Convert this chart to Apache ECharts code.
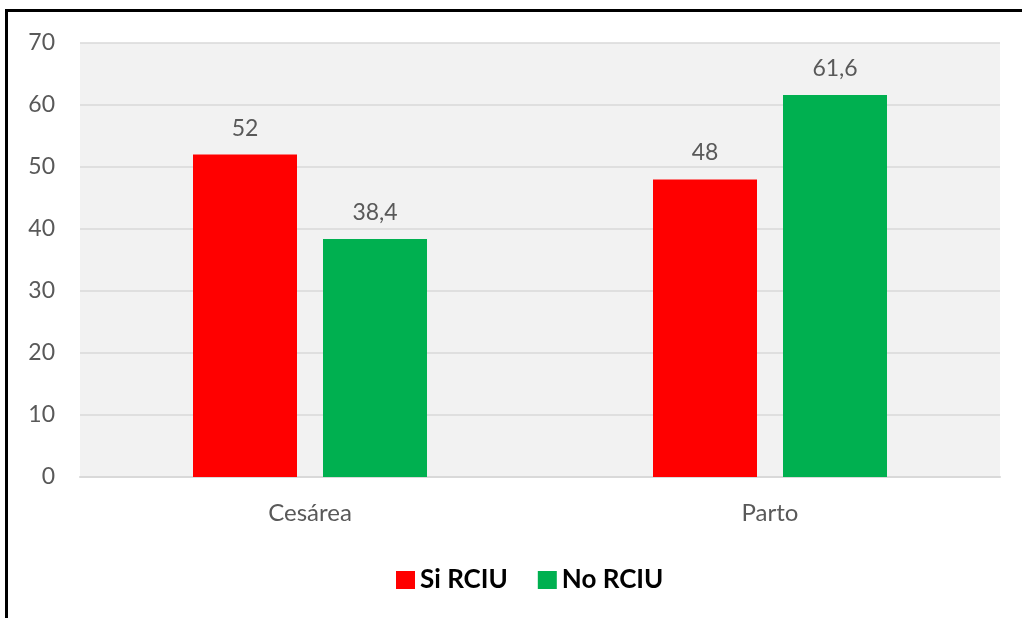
<!DOCTYPE html>
<html><head><meta charset="utf-8">
<script src="https://cdn.jsdelivr.net/npm/echarts@6/dist/echarts.min.js"></script>
<style>html,body{margin:0;padding:0;background:#fff}#c{width:1022px;height:618px}</style>
</head><body><div id="c"></div>
<script>
const categories = ['Cesárea', 'Parto'];
const seriesNames = ['Si RCIU', 'No RCIU'];
const siRciu = [52, 48];
const noRciu = [38.4, 61.6];
const yTicks = [0, 10, 20, 30, 40, 50, 60, 70];

const chart = echarts.init(document.getElementById('c'));
const fontFamily = 'Lato, "Liberation Sans", sans-serif';
const fmt = p => String(p.value).replace('.', ',');
chart.setOption({
  animation: false,
  textStyle: { fontFamily },
  graphic: [
    { type: 'line', shape: { x1: 6.5, y1: 9, x2: 6.5, y2: 618 }, style: { stroke: '#000', lineWidth: 3 } },
    { type: 'line', shape: { x1: 5, y1: 10.5, x2: 1022, y2: 10.5 }, style: { stroke: '#000', lineWidth: 3 } }
  ],
  grid: { left: 80, right: 22, top: 43, bottom: 141, show: true, backgroundColor: '#f2f2f2', borderWidth: 0 },
  legend: {
    data: seriesNames, top: 562, left: 391, itemWidth: 19, itemHeight: 18, itemGap: 30,
    icon: 'rect',
    textStyle: { fontFamily, fontSize: 26, fontWeight: 'bold', color: '#000' }
  },
  xAxis: {
    type: 'category', data: categories,
    axisLine: { lineStyle: { color: '#d9d9d9', width: 2 } },
    axisTick: { show: false },
    axisLabel: { color: '#595959', fontSize: 24, margin: 24 }
  },
  yAxis: {
    type: 'value', min: yTicks[0], max: yTicks[yTicks.length - 1], interval: 10,
    axisLine: { show: false }, axisTick: { show: false },
    axisLabel: { color: '#595959', fontSize: 23, margin: 25 },
    splitLine: { lineStyle: { color: '#d9d9d9', width: 1.5 } }
  },
  series: [
    { name: seriesNames[0], type: 'bar', data: siRciu, barWidth: 104, barGap: '25%',
      itemStyle: { color: '#ff0000' },
      label: { show: true, position: 'top', distance: 15, color: '#595959', fontSize: 23, formatter: fmt } },
    { name: seriesNames[1], type: 'bar', data: noRciu, barWidth: 104,
      itemStyle: { color: '#00b050' },
      label: { show: true, position: 'top', distance: 15, color: '#595959', fontSize: 23, formatter: fmt } }
  ]
});
</script></body></html>
